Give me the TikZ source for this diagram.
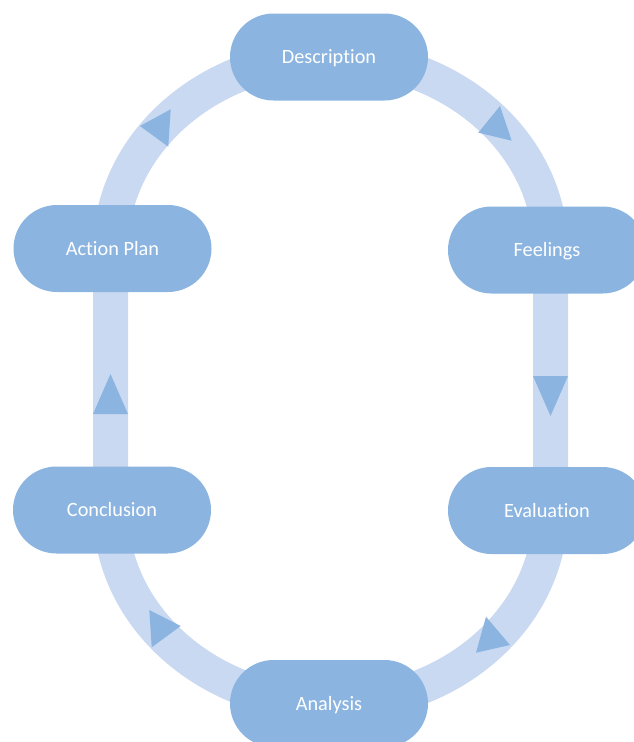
\documentclass[tikz,border=0pt]{standalone}
\usepackage{fontspec}
\setmainfont{Carlito}[Ligatures=NoCommon]
\definecolor{nodeblue}{HTML}{8BB5E0}
\definecolor{bandblue}{HTML}{C9D9F1}
\begin{document}
\begin{tikzpicture}[x=1pt,y=-1pt,
  stage/.style={fill=nodeblue, draw=none, rounded corners=43.5pt,
    minimum width=198pt, minimum height=87pt, inner sep=0pt,
    text height=13pt, text depth=0pt,
    text=white, font=\fontsize{20.3}{24}\selectfont},
  band/.style={draw=bandblue, line width=35pt},
  tri/.style={fill=nodeblue, draw=none}]
\useasboundingbox (0,0) rectangle (634,742);
% ring points
\coordinate (rAP) at (110.5,250);
\coordinate (rD)  at (330.5,57);
\coordinate (rF)  at (550.5,250);
\coordinate (rE)  at (550.5,510);
\coordinate (rA)  at (330.5,704);
\coordinate (rC)  at (110.5,510);
% band
\draw[band] (rAP) .. controls (110.5,143.4) and (209,57) .. (rD)
  .. controls (452,57) and (550.5,143.4) .. (rF)
  -- (rE)
  .. controls (550.5,617.1) and (452,704) .. (rA)
  .. controls (209,704) and (110.5,617.1) .. (rC)
  -- cycle;
% arrowheads
\fill[tri] (140,126) -- (170.7,109.3) -- (168.3,146.7) -- cycle;
\fill[tri] (500,106) -- (478.3,132.7) -- (511.7,140.7) -- cycle;
\fill[tri] (550.5,416) -- (533,376) -- (568,376) -- cycle;
\fill[tri] (486,616.7) -- (510,645) -- (476,652.7) -- cycle;
\fill[tri] (149.3,610) -- (180.7,626) -- (151.7,647.3) -- cycle;
\fill[tri] (110.5,374) -- (93,414) -- (128,414) -- cycle;
% stages
\node[stage] (D)  at (329,57)    {Description};
\node[stage] (F)  at (547,250)   {Feelings};
\node[stage] (E)  at (547,510.5) {Evaluation};
\node[stage] (A)  at (329,703.5) {Analysis};
\node[stage] (C)  at (112,510)   {Conclusion};
\node[stage] (AP) at (112.5,248.5) {Action Plan};
\end{tikzpicture}
\end{document}
